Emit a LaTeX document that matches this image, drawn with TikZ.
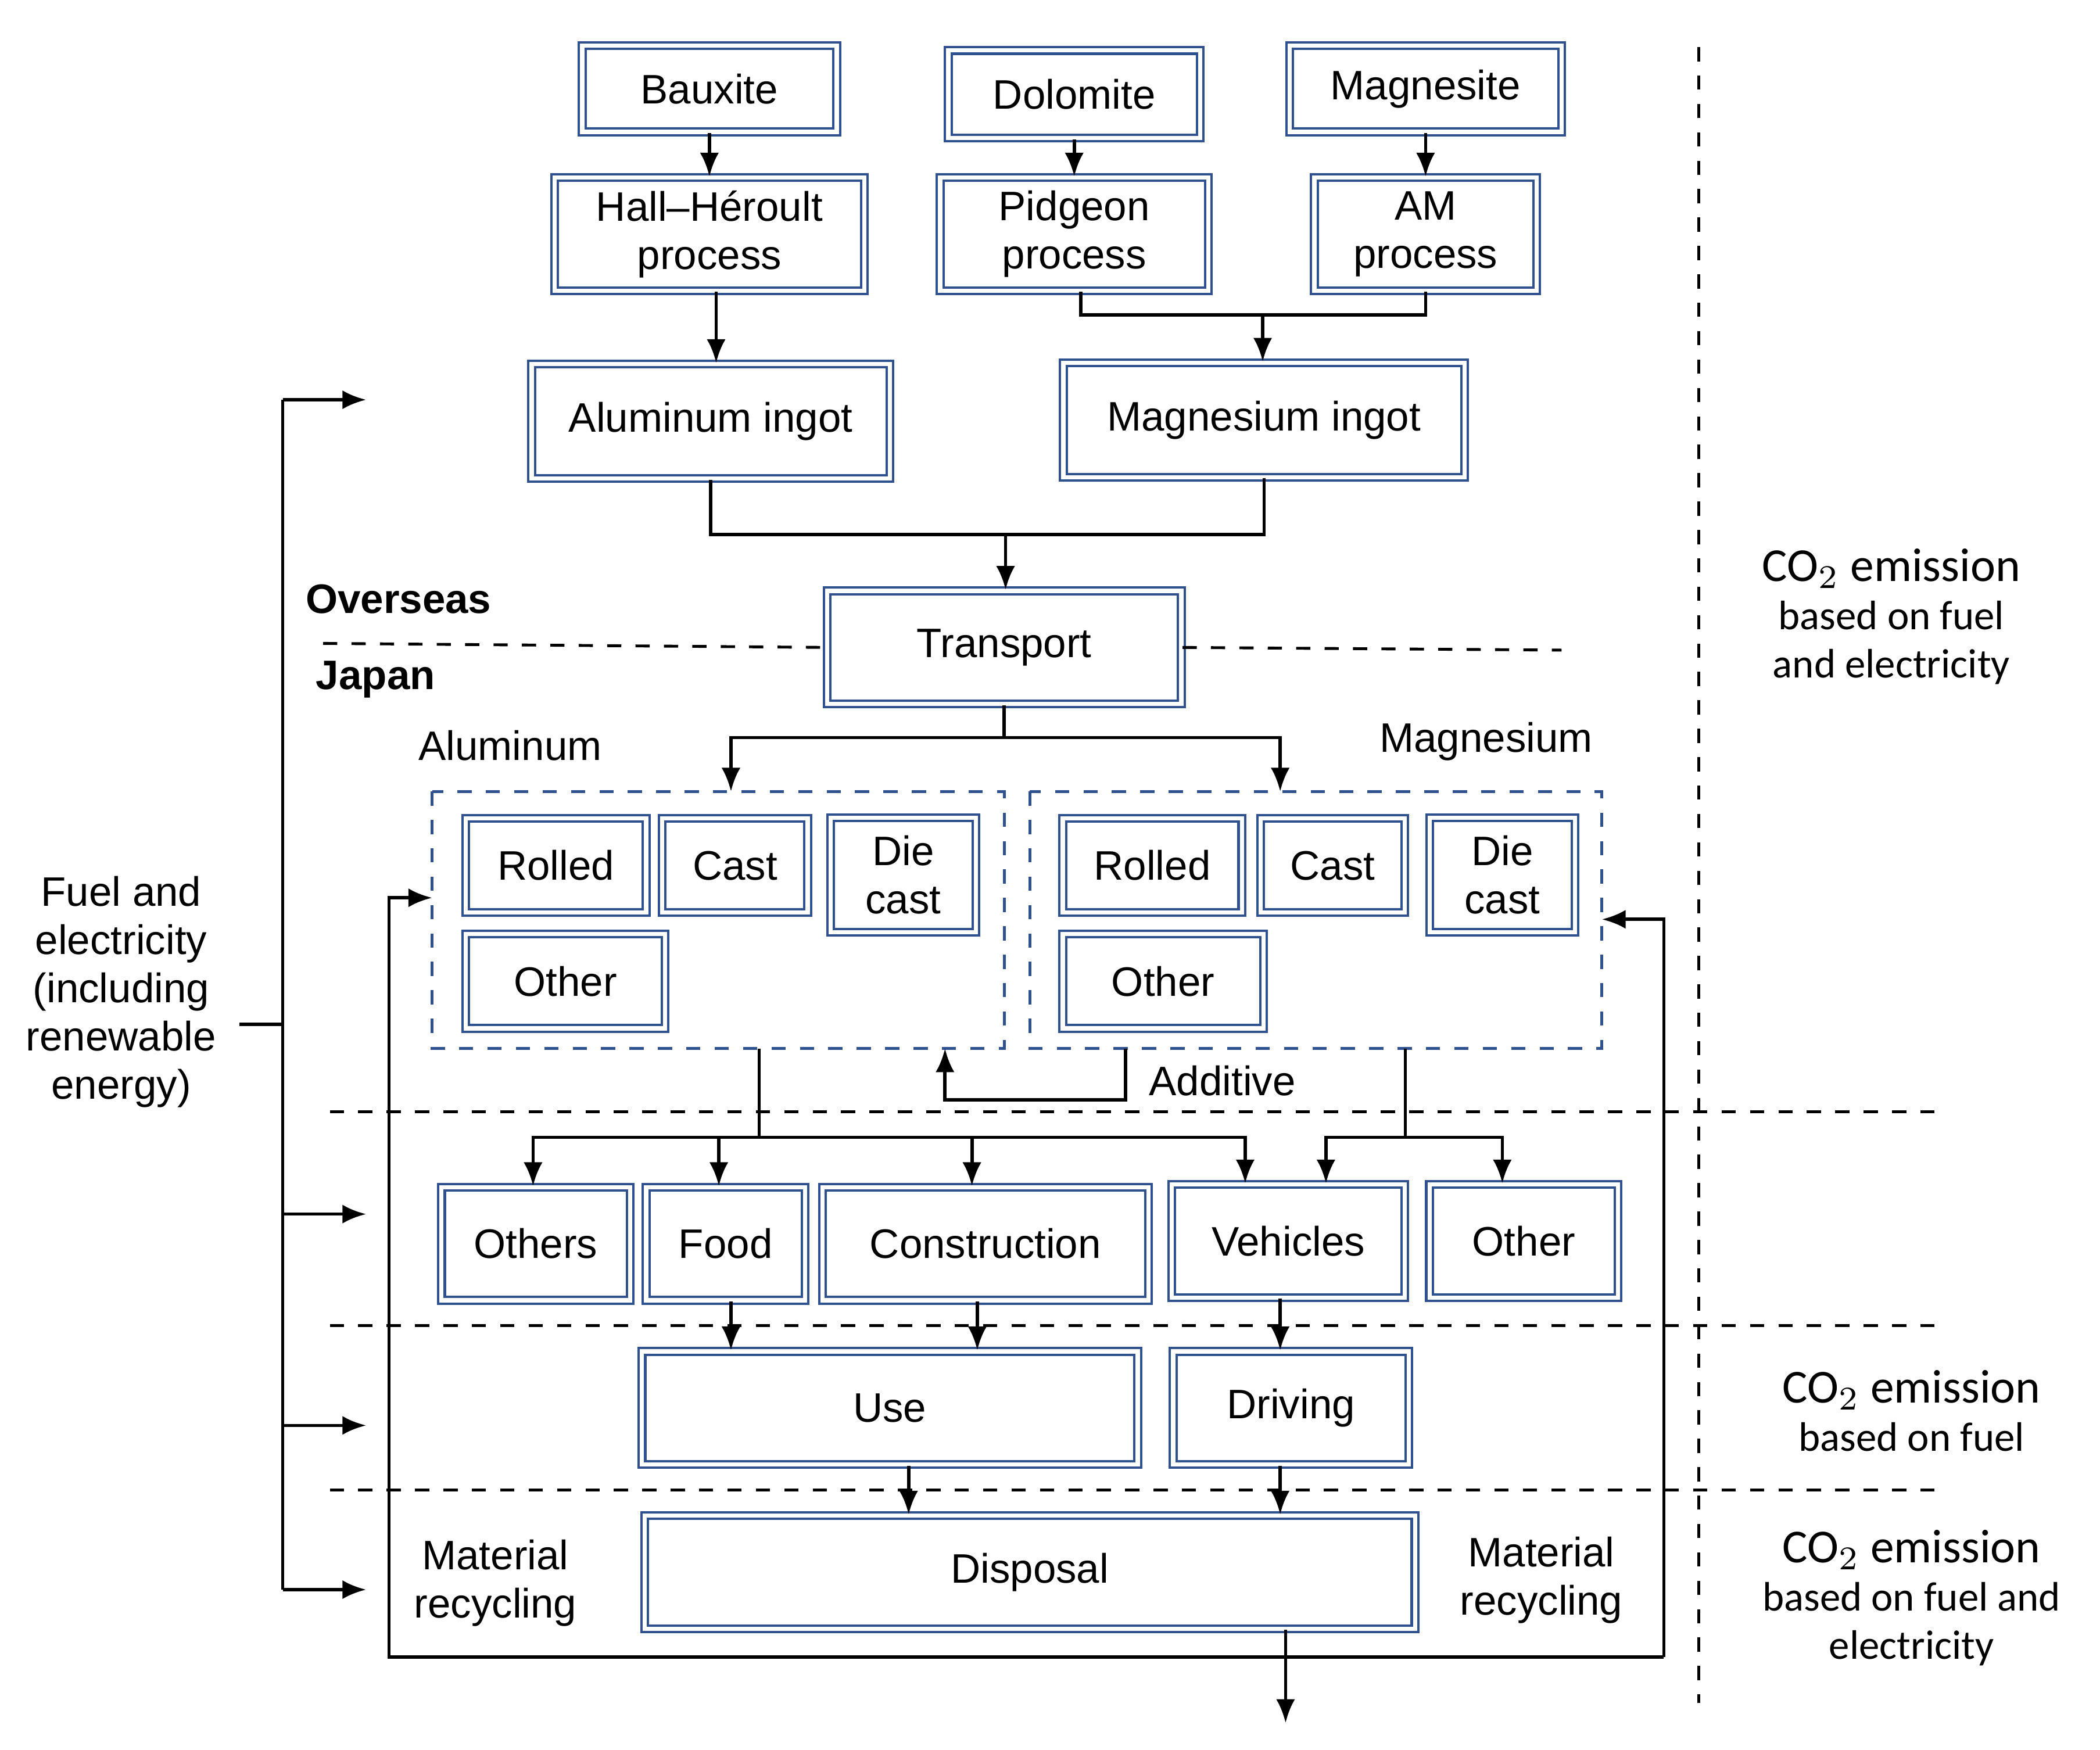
\documentclass[tikz,border=0pt]{standalone}
\usepackage{fontspec}
\setmainfont{Liberation Sans}
\newfontfamily\calib{Carlito}
\usetikzlibrary{arrows.meta}
\definecolor{boxblue}{RGB}{47,82,143}
\tikzset{
% boxes with a blue double border
box/.style={draw=boxblue,line width=0.5pt,double=white,double distance=0.9pt,inner sep=0,align=center,font=\fontsize{8.7}{10.2}\selectfont},
group/.style={draw=boxblue,dashed,line width=0.6pt},
sep/.style={dashed,line width=0.6pt},
lbl/.style={align=center,font=\fontsize{8.7}{10.2}\selectfont},
note/.style={align=center,font=\calib\fontsize{8.7}{10.2}\selectfont},
flow/.style={-{Latex[length=5pt,width=4pt]},line width=0.7pt},
line/.style={line width=0.7pt}
}

\begin{document}
\begin{tikzpicture}[x=0.01cm,y=-0.01cm]
      \useasboundingbox (0,0) rectangle (1560,1300);
      % Raw material and primary production
      \node(baux)[box,minimum width=1.89cm,minimum height=0.64cm] at (527,66){Bauxite};
      \node(dolo)[box,minimum width=1.87cm,minimum height=0.65cm] at (798,70){Dolomite};
      \node(magn)[box,minimum width=2.02cm,minimum height=0.64cm] at (1059,66){Magnesite};
      \node(hall)[box,minimum width=2.30cm,minimum height=0.84cm] at (527,174){Hall--Héroult\\process};
      \node(pidg)[box,minimum width=1.99cm,minimum height=0.84cm] at (798,174){Pidgeon\\process};
      \node(amp)[box,minimum width=1.65cm,minimum height=0.84cm] at (1059,174){AM\\process};
      \node(alin)[box,minimum width=2.66cm,minimum height=0.85cm] at (528,313){Aluminum ingot};
      \node(mgin)[box,minimum width=2.98cm,minimum height=0.85cm] at (939,312){Magnesium ingot};
      \node(trans)[box,minimum width=2.63cm,minimum height=0.84cm] at (746,481){Transport};
      \draw[flow] (baux) -- (hall);
      \draw[flow] (dolo) -- (pidg);
      \draw[flow] (magn) -- (amp);
      \draw[flow] (hall.south -| 532,0) -- (alin.north -| 532,0);
      \coordinate (mgj) at (938,234);
      \draw[line] (pidg.south -| 803,0) |- (mgj) -| (amp.south);
      \draw[flow] (mgj) -- (mgin.north -| mgj);
      \coordinate (trj) at (747,397);
      \draw[line] (alin.south) |- (trj) -| (mgin.south);
      \draw[flow] (trj) -- (trans.north -| trj);
      % Overseas / Japan
      \node[lbl,font=\bfseries\fontsize{8.7}{10.2}\selectfont] at (296,445){Overseas};
      \node[lbl,font=\bfseries\fontsize{8.7}{10.2}\selectfont] at (279,505){Japan};
      \draw[sep] (240,478) -- (trans.west);
      \draw[sep] (trans.east) -- (1160,483);
      % Semi-finished products
      \node[lbl] at (379,554){Aluminum};
      \node[lbl] at (1104,551){Magnesium};
      \draw[group] (321,588) rectangle (746,779);
      \draw[group] (765,588) rectangle (1190,779);
      \node(arol)[box,minimum width=1.34cm,minimum height=0.70cm] at (413,643){Rolled};
      \node(acas)[box,minimum width=1.08cm,minimum height=0.70cm] at (546,643){Cast};
      \node(adie)[box,minimum width=1.08cm,minimum height=0.85cm] at (671,650){Die\\cast};
      \node(aoth)[box,minimum width=1.48cm,minimum height=0.70cm] at (420,729){Other};
      \node(mrol)[box,minimum width=1.33cm,minimum height=0.70cm] at (856,643){Rolled};
      \node(mcas)[box,minimum width=1.07cm,minimum height=0.70cm] at (990,643){Cast};
      \node(mdie)[box,minimum width=1.08cm,minimum height=0.85cm] at (1116,650){Die\\cast};
      \node(moth)[box,minimum width=1.49cm,minimum height=0.70cm] at (864,729){Other};
      \coordinate (trb) at (746,548);
      \draw[line] (trans.south) -- (trb);
      \draw[flow] (trb) -| (543,588);
      \draw[flow] (trb) -| (951,588);
      \node[lbl] at (908,803){Additive};
      \draw[flow] (836,779) |- (702,817) -- (702,779);
      % Final products
      \node(oths)[box,minimum width=1.40cm,minimum height=0.84cm] at (398,924){Others};
      \node(food)[box,minimum width=1.18cm,minimum height=0.84cm] at (539,924){Food};
      \node(cons)[box,minimum width=2.42cm,minimum height=0.84cm] at (732,924){Construction};
      \node(vehi)[box,minimum width=1.73cm,minimum height=0.84cm] at (957,922){Vehicles};
      \node(othr)[box,minimum width=1.40cm,minimum height=0.84cm] at (1132,922){Other};
      \coordinate (alb) at (564,845);
      \coordinate (mgb) at (1044,845);
      \draw[line] (564,779) -- (alb);
      \draw[line] (1044,779) -- (mgb);
      \draw[flow] (alb) -| (oths.north -| 396,0);
      \draw[flow] (alb) -| (food.north -| 534,0);
      \draw[flow] (alb) -| (cons.north -| 722,0);
      \draw[flow] (alb) -| (vehi.north -| 925,0);
      \draw[flow] (mgb) -| (vehi.north -| 985,0);
      \draw[flow] (mgb) -| (othr.north -| 1116,0);
      % Use and disposal
      \node(use)[box,minimum width=3.68cm,minimum height=0.84cm] at (661,1046){Use};
      \node(driv)[box,minimum width=1.75cm,minimum height=0.84cm] at (959,1046){Driving};
      \node(disp)[box,minimum width=5.72cm,minimum height=0.84cm] at (765,1168){Disposal};
      \draw[flow] (food.south -| 543,0) -- (use.north -| 543,0);
      \draw[flow] (cons.south -| 726,0) -- (use.north -| 726,0);
      \draw[flow] (vehi.south -| 951,0) -- (driv.north -| 951,0);
      \draw[flow] (use.south -| 675,0) -- (disp.north -| 675,0);
      \draw[flow] (driv.south -| 951,0) -- (disp.north -| 951,0);
      \coordinate (out) at (955,1280);
      \draw[flow] (disp.south -| out) -- (out);
      % Material recycling
      \node[lbl] at (368,1176){Material\\recycling};
      \node[lbl] at (1145,1174){Material\\recycling};
      \draw[flow] (1236,1231) -- (289,1231) |- (321,667);
      \draw[flow] (1236,1231) |- (1190,683);
      % Fuel and electricity
      \node(fuel)[lbl] at (90,737){Fuel and\\electricity\\(including\\renewable\\energy)};
      \draw[line] (178,761) -- (210,761);
      \draw[line] (210,297) -- (210,1181);
      \foreach \y in {297,902,1059,1181}
        \draw[flow] (210,\y) -- (272,\y);
      % Stage separators
      \foreach \y in {826,985,1107}
        \draw[sep] (245,\y) -- (1445,\y);
      \draw[sep] (1262,35) -- (1262,1265);
      % Emission notes
      \node[note] at (1405,458){{\fontsize{10}{11}\selectfont CO$_2$ emission}\\based on fuel\\and electricity};
      \node[note] at (1420,1048){{\fontsize{10}{11}\selectfont CO$_2$ emission}\\based on fuel};
      \node[note] at (1420,1187){{\fontsize{10}{11}\selectfont CO$_2$ emission}\\based on fuel and\\electricity};
\end{tikzpicture}
\end{document}
